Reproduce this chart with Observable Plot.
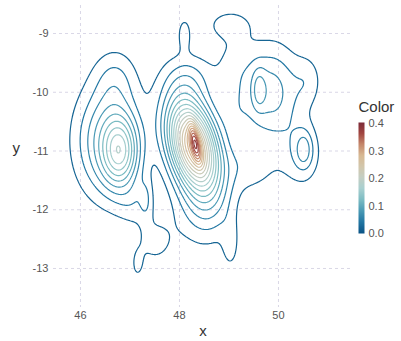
<!DOCTYPE html>
<html><head><meta charset="utf-8">
<script src="https://cdn.jsdelivr.net/npm/d3@7"></script>
<script src="https://cdn.jsdelivr.net/npm/@observablehq/plot@0.6"></script>
<style>
body{margin:0;background:#fff;}
#wrap{position:relative;width:401px;height:341px;font-family:"Liberation Sans",Arial,sans-serif;}
#wrap svg{position:absolute;overflow:visible;}
</style></head><body><div id="wrap"></div>
<script>
// ---- data ----
const xTicks = [46, 48, 50];
const yTicks = [-9, -10, -11, -12, -13];
const legendTicks = [0, 0.1, 0.2, 0.3, 0.4];
const levels = [0.02,0.04,0.06,0.08,0.10,0.12,0.14,0.16,0.18,0.20,0.22,0.24,0.26,0.28,0.30,0.32,0.34,0.36,0.38,0.40];
// density bumps (estimated): centre, height, spread, tilt
const bumpX   = [48.28, 48.32, 48.20, 48.50, 46.81, 46.55, 46.71, 48.10, 49.00, 49.60, 49.85, 50.60, 50.52, 50.45, 49.43, 47.32, 47.15, 47.10, 49.03, 47.50, 49.10, 49.15];
const bumpY   = [-10.91,-10.87,-9.75, -12.00,-11.02,-10.82,-9.75, -9.00, -8.85, -9.95, -10.00,-9.80, -10.97,-11.05,-11.25,-11.82,-12.95,-11.90,-12.61,-12.55,-9.55, -10.40];
const bumpH   = [0.29,  0.10,  0.035, 0.04,  0.11,  0.085, 0.03,  0.03,  0.028, 0.035, 0.07,  0.025, 0.04,  0.035, 0.03,  0.025, 0.02,  0.02,  0.025, 0.025, 0.022, 0.016];
const bumpSX  = [0.36,  0.08,  0.35,  0.40,  0.25,  0.45,  0.30,  0.10,  0.30,  0.10,  0.40,  0.20,  0.12,  0.30,  0.35,  0.09,  0.10,  0.25,  0.12,  0.30,  0.28,  0.20];
const bumpSY  = [0.55,  0.22,  0.30,  0.45,  0.42,  0.65,  0.35,  0.20,  0.16,  0.25,  0.55,  0.30,  0.22,  0.40,  0.30,  0.25,  0.20,  0.25,  0.30,  0.30,  0.50,  0.30];
const bumpRho = [-0.35, -0.6,  0,     0,     0,     0,     0,     0,     0,     0,     0,     0,     0,     0,     0,     0,     0,     0,     0,     0,     0,     0];
const colorStops = ["#0b5486","#2277a3","#4a9ab5","#7cbcc3","#a8cfcf","#c4cec3","#d2c6ab","#d7b892","#c4866a","#a0443f","#7a2938"];

function density(x, y) {
  let s = 0;
  for (let i = 0; i < bumpX.length; i++) {
    const dx = (x - bumpX[i]) / bumpSX[i], dy = (y - bumpY[i]) / bumpSY[i], r = bumpRho[i];
    s += bumpH[i] * Math.exp(-0.5 * (dx*dx - 2*r*dx*dy + dy*dy) / (1 - r*r));
  }
  return s;
}

const xDom = [45.455, 51.495], yDom = [-13.664, -8.523];
const colorOpts = {type: "linear", domain: [0, 0.405], interpolate: d3.piecewise(d3.interpolateRgb, colorStops)};
const gridStyle = {stroke: "#cfcde0", strokeOpacity: 1, strokeWidth: 0.8, strokeDasharray: "3,3"};
const fmt = d => String(d);

const main = Plot.plot({
  width: 401, height: 341,
  marginLeft: 53, marginRight: 49, marginTop: 5, marginBottom: 34,
  style: {fontFamily: "Liberation Sans, Arial, sans-serif", background: "transparent"},
  x: {domain: xDom},
  y: {domain: yDom},
  color: colorOpts,
  marks: [
    Plot.gridX(xTicks, gridStyle),
    Plot.gridY(yTicks, gridStyle),
    Plot.contour({value: density, stroke: "value", fill: "none", x1: xDom[0], x2: xDom[1], y1: yDom[0], y2: yDom[1], thresholds: levels, strokeWidth: 1.2, pixelSize: 1}),
    Plot.axisX(xTicks, {tickSize: 0, tickPadding: 4, tickFormat: fmt, label: null, fontSize: 11, fill: "#555"}),
    Plot.axisY(yTicks, {tickSize: 0, tickPadding: 5, tickFormat: fmt, label: null, fontSize: 11, fill: "#555"}),
    Plot.text(["x"], {frameAnchor: "bottom", dy: 28, fontSize: 15, fill: "#333"}),
    Plot.text(["y"], {frameAnchor: "left", dx: -41, dy: -8, fontSize: 15, fill: "#333"})
  ]
});
main.style.left = "0px"; main.style.top = "0px";

const legend = Plot.plot({
  width: 51, height: 155,
  marginLeft: 8, marginRight: 37, marginTop: 32, marginBottom: 12,
  style: {fontFamily: "Liberation Sans, Arial, sans-serif", background: "transparent", overflow: "visible"},
  x: {domain: [0, 1], axis: null},
  y: {domain: [0, 0.405]},
  color: colorOpts,
  marks: [
    Plot.raster({fill: (x, y) => y, x1: 0, x2: 1, y1: 0, y2: 0.405, pixelSize: 1, imageRendering: "pixelated"}),
    Plot.axisY(legendTicks, {anchor: "right", tickSize: 0, tickPadding: 4, tickFormat: d3.format(".1f"), label: null, fontSize: 11, fill: "#555"}),
    Plot.text(["Color"], {frameAnchor: "top-left", dy: -21, textAnchor: "start", fontSize: 15, fill: "#333"})
  ]
});
legend.style.left = "350px"; legend.style.top = "90px";

const wrap = document.getElementById("wrap");
wrap.appendChild(main);
wrap.appendChild(legend);
</script>
</body></html>
